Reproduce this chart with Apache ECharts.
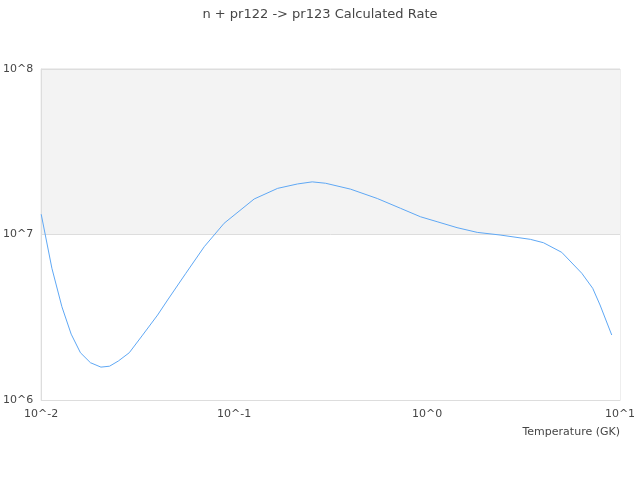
<!DOCTYPE html>
<html>
<head>
<meta charset="utf-8">
<script src="https://cdn.jsdelivr.net/npm/echarts@6/dist/echarts.min.js"></script>
<style>html,body{margin:0;padding:0;background:#fff}#c{width:640px;height:480px}</style>
</head>
<body>
<div id="c"></div>
<script>
var titleText = "n + pr122 -> pr123 Calculated Rate";
var xName = "Temperature (GK)";
var temperatures = [0.01, 0.01136, 0.0128, 0.0143, 0.01597, 0.018, 0.0204, 0.0226, 0.0251, 0.0286, 0.0333, 0.0401, 0.0452, 0.0562, 0.070, 0.0887, 0.127, 0.168, 0.213, 0.254, 0.298, 0.401, 0.552, 0.728, 0.924, 1.127, 1.43, 1.82, 2.39, 3.43, 4.01, 4.99, 6.34, 7.22, 7.88, 9.06];
var rates = [1.325e7, 6.25e6, 3.66e6, 2.50e6, 1.93e6, 1.68e6, 1.58e6, 1.60e6, 1.72e6, 1.93e6, 2.44e6, 3.26e6, 4.02e6, 5.83e6, 8.44e6, 1.169e7, 1.639e7, 1.90e7, 2.02e7, 2.08e7, 2.04e7, 1.88e7, 1.65e7, 1.44e7, 1.28e7, 1.195e7, 1.10e7, 1.03e7, 9.93e6, 9.35e6, 8.92e6, 7.80e6, 5.83e6, 4.73e6, 3.75e6, 2.47e6];

var chart = echarts.init(document.getElementById('c'));
var pts = temperatures.map(function (t, i) { return [t, rates[i]]; });
function fmt(v) { return '10^' + Math.round(Math.log10(v)); }
chart.setOption({
  animation: false,
  textStyle: { fontFamily: 'DejaVu Sans' },
  title: {
    text: titleText, left: 'center', top: 3,
    textStyle: { fontSize: 13, fontWeight: 'normal', color: '#464646', fontFamily: 'DejaVu Sans' }
  },
  grid: { left: 40, right: 20, top: 69, bottom: 80, show: true, borderColor: '#ddd', borderWidth: 1, backgroundColor: 'transparent' },
  xAxis: {
    type: 'log', logBase: 10, min: 0.01, max: 10,
    name: xName, nameLocation: 'end', nameGap: 0,
    nameTextStyle: { align: 'right', verticalAlign: 'top', padding: [27, 0, 0, 0], color: '#464646', fontSize: 11 },
    axisLine: { show: true, lineStyle: { color: '#ddd' } },
    axisTick: { show: false },
    splitLine: { show: false },
    axisLabel: { formatter: fmt, color: '#464646', fontSize: 11, margin: 9 }
  },
  yAxis: {
    type: 'log', logBase: 10, min: 1e6, max: 1e8,
    axisLine: { show: true, lineStyle: { color: '#ddd' } },
    axisTick: { show: false },
    splitLine: { show: true, lineStyle: { color: '#ddd' } },
    splitArea: { show: true, areaStyle: { color: ['#f3f3f3', '#ffffff'] } },
    axisLabel: { formatter: fmt, color: '#464646', fontSize: 11, margin: 8 }
  },
  series: [{
    type: 'line', data: pts, showSymbol: false, smooth: false,
    lineStyle: { color: '#5fa8f5', width: 1 }
  }]
});
</script>
</body>
</html>
